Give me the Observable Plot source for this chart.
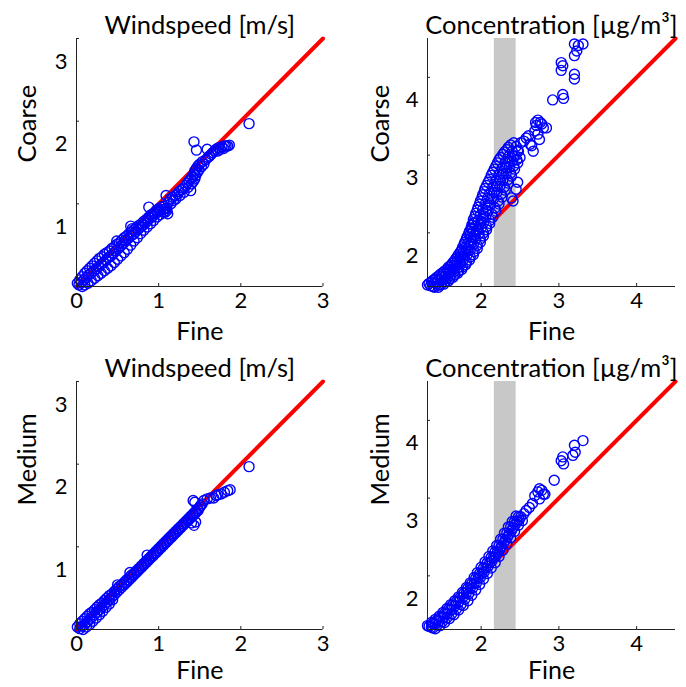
<!DOCTYPE html>
<html><head><meta charset="utf-8">
<script src="https://cdn.jsdelivr.net/npm/d3@7"></script>
<script src="https://cdn.jsdelivr.net/npm/@observablehq/plot@0.6"></script>
<style>
body{margin:0;background:#fff;}
#grid{display:grid;grid-template-columns:343px 343px;grid-template-rows:343px 343px;width:686px;}
#grid svg{overflow:visible;}
</style></head><body><div id="grid"></div>
<script>
// ---- data: [fine, other] pairs ----
const windCoarse = [
[0.01,0.04],[0.04,0.08],[0.07,0.12],[0.10,0.16],[0.13,0.19],[0.16,0.22],[0.19,0.25],[0.22,0.28],[0.25,0.31],[0.28,0.34],[0.31,0.36],[0.34,0.39],[0.37,0.41],[0.40,0.43],[0.43,0.46],[0.46,0.48],[0.49,0.51],[0.52,0.53],[0.55,0.56],[0.58,0.59],[0.61,0.61],[0.64,0.64],[0.67,0.66],[0.70,0.69],[0.73,0.71],[0.76,0.74],[0.79,0.76],[0.82,0.79],[0.85,0.81],[0.88,0.84],[0.91,0.87],[0.94,0.89],[0.97,0.92],[1.00,0.94],[1.03,0.96],[1.06,0.97],
[0.03,0.02],[0.06,0.05],[0.09,0.08],[0.12,0.11],[0.15,0.14],[0.18,0.16],[0.21,0.19],[0.24,0.21],[0.27,0.24],[0.30,0.27],[0.33,0.29],[0.36,0.32],[0.39,0.35],[0.42,0.37],[0.45,0.40],[0.48,0.43],[0.51,0.46],[0.54,0.49],[0.57,0.52],[0.60,0.55],[0.63,0.58],[0.66,0.61],[0.69,0.63],[0.72,0.66],[0.75,0.69],[0.78,0.72],[0.81,0.74],[0.84,0.77],[0.87,0.80],[0.90,0.83],[0.93,0.85],[0.96,0.88],[0.99,0.90],[1.02,0.92],[1.05,0.93],[1.08,0.94],
[0.07,0.00],[0.10,0.02],[0.14,0.04],[0.18,0.07],[0.22,0.10],[0.26,0.13],[0.30,0.16],[0.34,0.19],[0.38,0.22],[0.42,0.25],[0.46,0.29],[0.50,0.33],[0.54,0.37],[0.58,0.41],[0.62,0.45],[0.66,0.50],[0.70,0.55],[0.74,0.59],[0.78,0.64],[0.82,0.68],[0.86,0.72],[0.90,0.76],[0.94,0.80],[0.98,0.84],[1.02,0.87],[1.06,0.90],[1.10,0.92],
[1.08,0.90],[1.10,0.95],[1.11,0.88],[0.49,0.55],[0.66,0.73],[0.68,0.70],[0.88,0.96],[1.09,1.10],
[1.12,1.02],[1.14,1.06],[1.15,1.00],[1.17,1.08],[1.18,1.04],[1.20,1.10],[1.21,1.06],[1.23,1.12],[1.25,1.15],[1.26,1.10],[1.28,1.17],[1.30,1.19],[1.31,1.14],[1.33,1.22],[1.35,1.25],[1.36,1.20],[1.37,1.28],[1.39,1.16],[1.39,1.30],[1.40,1.24],[1.41,1.33],[1.42,1.27],[1.43,1.36],[1.44,1.30],[1.44,1.40],[1.45,1.34],[1.46,1.43],[1.47,1.38],[1.48,1.46],[1.49,1.41],[1.50,1.48],[1.52,1.45],[1.53,1.51],[1.55,1.48],[1.57,1.53],[1.59,1.66],[1.60,1.56],[1.62,1.58],[1.64,1.60],[1.66,1.62],[1.68,1.64],[1.70,1.66],[1.72,1.64],[1.73,1.68],[1.75,1.66],[1.77,1.69],[1.79,1.67],[1.80,1.70],[1.82,1.70],[1.84,1.70],[1.86,1.71],[1.43,1.75],[1.46,1.65],[2.10,1.97]
];
const windMedium = [
[0.01,0.03],[0.04,0.07],[0.07,0.10],[0.10,0.13],[0.13,0.16],[0.16,0.19],[0.19,0.21],[0.22,0.24],[0.25,0.27],[0.28,0.30],[0.31,0.32],[0.34,0.35],[0.37,0.38],[0.40,0.41],[0.43,0.43],[0.46,0.46],[0.49,0.49],[0.52,0.52],[0.55,0.54],[0.58,0.57],[0.61,0.60],[0.64,0.63],[0.67,0.66],[0.70,0.68],[0.73,0.71],[0.76,0.74],[0.79,0.77],[0.82,0.80],[0.85,0.83],[0.88,0.86],[0.91,0.89],[0.94,0.92],[0.97,0.95],[1.00,0.98],[1.03,1.01],[1.06,1.04],[1.09,1.07],[1.12,1.10],[1.15,1.13],[1.18,1.16],[1.21,1.19],[1.24,1.22],[1.27,1.25],[1.30,1.28],[1.33,1.31],[1.36,1.34],[1.39,1.37],[1.42,1.40],[1.45,1.43],[1.48,1.46],[1.51,1.50],
[0.04,0.01],[0.07,0.04],[0.10,0.06],[0.13,0.09],[0.16,0.12],[0.19,0.15],[0.22,0.18],[0.25,0.21],[0.28,0.24],[0.31,0.27],[0.34,0.30],[0.37,0.33],[0.40,0.36],[0.43,0.39],[0.46,0.42],[0.49,0.45],[0.52,0.48],[0.55,0.51],[0.58,0.54],[0.61,0.57],[0.64,0.60],[0.67,0.63],[0.70,0.66],[0.73,0.69],[0.76,0.72],[0.79,0.75],[0.82,0.78],[0.85,0.81],[0.88,0.84],[0.91,0.87],[0.94,0.90],[0.97,0.93],[1.00,0.96],[1.03,0.99],[1.06,1.02],[1.09,1.05],[1.12,1.08],[1.15,1.11],[1.18,1.14],[1.21,1.17],[1.24,1.20],[1.27,1.23],[1.30,1.26],[1.33,1.29],[1.36,1.32],[1.39,1.35],[1.42,1.38],[1.45,1.41],[1.48,1.44],
[0.08,0.00],[0.12,0.03],[0.16,0.06],[0.20,0.10],[0.24,0.14],[0.28,0.18],[0.32,0.22],[0.36,0.27],[0.40,0.31],[0.44,0.36],
[0.50,0.54],[0.65,0.69],[0.86,0.90],[1.40,1.29],[1.43,1.26],[1.45,1.30],[1.42,1.56],[1.44,1.54],[1.50,1.48],[1.53,1.52],[1.55,1.56],[1.59,1.58],[1.63,1.59],[1.67,1.59],[1.70,1.62],[1.72,1.63],[1.76,1.64],[1.80,1.66],[1.84,1.68],[1.87,1.69],[2.10,1.97]
];
const concCoarse = [
[1.31,1.33],[1.36,1.37],[1.41,1.41],[1.46,1.45],[1.51,1.49],[1.56,1.53],[1.61,1.58],[1.65,1.63],[1.69,1.69],[1.73,1.75],[1.76,1.81],[1.79,1.88],[1.82,1.95],[1.85,2.02],[1.88,2.10],[1.90,2.17],[1.93,2.25],[1.96,2.33],[1.99,2.41],[2.02,2.49],[2.05,2.57],[2.09,2.65],[2.13,2.74],[2.17,2.82],[2.21,2.90],[2.25,2.97],[2.30,3.04],[2.35,3.10],[2.42,3.16],
[1.33,1.35],[1.38,1.39],[1.43,1.43],[1.48,1.47],[1.53,1.51],[1.58,1.56],[1.63,1.61],[1.67,1.66],[1.71,1.72],[1.75,1.78],[1.78,1.85],[1.81,1.92],[1.84,1.99],[1.87,2.06],[1.90,2.13],[1.92,2.21],[1.95,2.29],[1.98,2.37],[2.01,2.45],[2.04,2.53],[2.07,2.61],[2.11,2.69],[2.15,2.78],[2.19,2.86],[2.23,2.94],[2.28,3.01],[2.33,3.07],[2.38,3.13],
[1.35,1.32],[1.40,1.36],[1.45,1.40],[1.50,1.44],[1.55,1.48],[1.60,1.53],[1.65,1.58],[1.69,1.63],[1.73,1.69],[1.77,1.75],[1.80,1.81],[1.84,1.88],[1.87,1.95],[1.90,2.02],[1.93,2.09],[1.96,2.16],[1.99,2.23],[2.02,2.30],[2.05,2.37],[2.08,2.44],[2.11,2.51],[2.15,2.59],[2.19,2.67],[2.23,2.75],[2.27,2.83],[2.31,2.91],[2.35,2.98],[2.40,3.05],[2.45,3.11],[2.51,3.16],
[1.38,1.31],[1.43,1.35],[1.48,1.39],[1.53,1.43],[1.58,1.47],[1.63,1.52],[1.67,1.57],[1.72,1.62],[1.76,1.68],[1.80,1.74],[1.83,1.80],[1.87,1.87],[1.90,1.94],[1.94,2.01],[1.97,2.08],[2.00,2.15],[2.03,2.22],[2.06,2.29],[2.09,2.36],[2.13,2.44],[2.17,2.52],[2.21,2.60],[2.25,2.68],[2.29,2.76],[2.33,2.84],[2.37,2.91],[2.42,2.98],[2.47,3.06],
[1.40,1.30],[1.45,1.33],[1.50,1.37],[1.55,1.41],[1.60,1.45],[1.65,1.50],[1.70,1.55],[1.74,1.60],[1.78,1.66],[1.82,1.72],[1.86,1.78],[1.90,1.85],[1.93,1.92],[1.97,1.99],[2.00,2.06],[2.03,2.13],[2.06,2.20],[2.09,2.28],[2.12,2.36],[2.16,2.44],[2.20,2.52],[2.24,2.60],[2.28,2.68],[2.32,2.76],[2.36,2.84],[2.40,2.92],[2.44,2.99],[2.48,3.05],
[1.48,1.33],[1.54,1.37],[1.60,1.41],[1.66,1.46],[1.71,1.51],[1.76,1.56],[1.81,1.62],[1.86,1.69],[1.91,1.76],[1.95,1.84],[1.99,1.92],[2.03,2.00],[2.07,2.08],[2.11,2.16],[2.14,2.24],[2.18,2.32],[2.22,2.41],[2.26,2.50],[2.30,2.59],[2.34,2.68],[2.38,2.77],[2.42,2.86],[2.46,2.94],
[1.45,1.30],[1.52,1.34],[1.58,1.38],[1.64,1.43],[1.70,1.48],[1.75,1.53],[1.80,1.59],[1.85,1.65],[1.90,1.72],[1.95,1.80],[1.99,1.88],[2.03,1.96],[2.07,2.04],[2.11,2.12],[2.15,2.20],[2.19,2.28],[2.23,2.37],[2.27,2.46],[2.31,2.55],[2.35,2.64],[2.39,2.73],[2.43,2.82],[2.47,2.90],[2.50,2.97],
[2.39,2.45],[2.41,2.41],[2.45,2.56],[2.47,2.65],[1.88,2.06],[1.91,2.12],[1.86,1.98],
[2.55,3.18],[2.58,3.22],[2.61,3.25],[2.63,3.14],[2.65,3.12],[2.67,3.05],[2.69,3.31],[2.70,3.42],[2.71,3.38],[2.73,3.45],[2.73,3.27],[2.75,3.20],[2.76,3.42],[2.78,3.40],[2.80,3.35],[2.84,3.35],
[2.92,3.71],[3.05,3.78],[3.06,3.73],[3.03,4.19],[3.05,4.15],[3.03,4.09],[3.20,4.04],[3.20,3.98],[3.20,4.43],[3.25,4.41],[3.31,4.43],[3.23,4.34],[3.20,4.28]
];
const concMedium = [
[1.31,1.36],[1.36,1.40],[1.41,1.44],[1.46,1.48],[1.51,1.53],[1.56,1.58],[1.61,1.63],[1.66,1.68],[1.71,1.73],[1.76,1.79],[1.81,1.85],[1.86,1.91],[1.91,1.98],[1.95,2.04],[2.00,2.11],[2.05,2.18],[2.10,2.25],[2.15,2.32],[2.20,2.39],[2.25,2.47],[2.30,2.55],[2.35,2.63],[2.40,2.70],[2.45,2.77],
[1.33,1.35],[1.38,1.39],[1.43,1.43],[1.48,1.47],[1.53,1.52],[1.58,1.57],[1.63,1.62],[1.68,1.67],[1.73,1.72],[1.78,1.78],[1.83,1.84],[1.88,1.90],[1.93,1.97],[1.98,2.03],[2.03,2.10],[2.08,2.17],[2.13,2.24],[2.18,2.31],[2.23,2.39],[2.28,2.47],[2.33,2.55],[2.38,2.63],[2.43,2.70],[2.48,2.76],
[1.36,1.34],[1.41,1.38],[1.46,1.42],[1.51,1.46],[1.56,1.51],[1.61,1.56],[1.66,1.61],[1.71,1.66],[1.76,1.72],[1.81,1.78],[1.86,1.84],[1.91,1.90],[1.96,1.97],[2.01,2.03],[2.06,2.10],[2.11,2.17],[2.16,2.24],[2.21,2.31],[2.26,2.38],[2.31,2.46],[2.36,2.54],[2.41,2.62],[2.46,2.70],[2.51,2.76],
[1.38,1.33],[1.44,1.37],[1.50,1.41],[1.56,1.46],[1.62,1.51],[1.68,1.57],[1.74,1.63],[1.79,1.70],[1.84,1.77],[1.89,1.84],[1.94,1.91],[1.99,1.98],[2.04,2.05],[2.09,2.12],[2.14,2.19],[2.19,2.26],[2.24,2.34],[2.29,2.42],[2.34,2.50],[2.39,2.58],[2.44,2.66],[2.49,2.72],
[1.41,1.32],[1.47,1.36],[1.53,1.40],[1.59,1.45],[1.65,1.50],[1.71,1.56],[1.77,1.62],[1.83,1.68],[1.88,1.75],[1.93,1.82],[1.98,1.89],[2.03,1.96],[2.08,2.03],[2.13,2.10],[2.18,2.17],[2.23,2.25],[2.28,2.33],[2.33,2.41],[2.38,2.49],[2.43,2.57],[2.48,2.65],[2.53,2.71],
[2.55,2.80],[2.58,2.84],[2.62,2.88],[2.66,2.93],[2.69,3.03],[2.73,3.08],[2.75,3.12],[2.75,2.99],[2.78,3.10],[2.80,3.05],[2.82,3.05],[2.94,3.23],
[3.03,3.48],[3.05,3.53],[3.06,3.44],[3.18,3.55],[3.20,3.68],[3.21,3.59],[3.31,3.74]
];
const windDomain = [0, 3];
const concDomain = [1.31, 4.5];
const windXTicks = [0, 1, 2, 3];
const windYTicks = [1, 2, 3];
const concTicks = [2, 3, 4];
const windRefLine = [[0, 0], [3, 3]];
const concRefLine = [[2.18, 2.18], [4.5, 4.5]];
const concBand = [2.17, 2.45];
const titles = ["Windspeed [m/s]", "Concentration [\u00b5g/m\u00b3]"];
const rowLabels = ["Coarse", "Medium"];
const xLabel = "Fine";

const FONT = "Lato, 'Open Sans', sans-serif";
const AXIS = "#222";

function panel({title, ylabel, pts, domain, xTicks, yTicks, ref, band, marginLeft, marginRight, ylabelDx, xlabelDy}) {
  const marks = [];
  if (band) marks.push(Plot.rect([band], {x1: d => d[0], x2: d => d[1], fill: "#c8c8c8"}));
  marks.push(Plot.line(ref, {x: d => d[0], y: d => d[1], stroke: "#ff0000", strokeWidth: 4}));
  marks.push(Plot.dot(pts, {x: d => d[0], y: d => d[1], r: 5, stroke: "#0000ff", strokeWidth: 1.4, fill: "none"}));
  marks.push(Plot.ruleX([domain[0]], {stroke: AXIS}));
  marks.push(Plot.ruleY([domain[0]], {stroke: AXIS}));
  marks.push(Plot.axisY({ticks: yTicks, tickSize: -3, tickFormat: () => "", stroke: AXIS, label: null}));
  marks.push(Plot.axisX({ticks: xTicks, tickSize: -3, tickFormat: () => "", stroke: AXIS, label: null}));
  marks.push(Plot.text(yTicks, {x: domain[0], y: d => d, text: d => String(d), textAnchor: "end", dx: -9, dy: 23, fontSize: 22, fill: "#000"}));
  marks.push(Plot.text(xTicks, {x: d => d, y: domain[0], text: d => String(d), lineAnchor: "top", dy: 6, fontSize: 22, fill: "#000"}));
  marks.push(Plot.text([title], {frameAnchor: "top", lineAnchor: "top", dy: -23, fontSize: 25.5, fill: "#000"}));
  marks.push(Plot.text([xLabel], {frameAnchor: "bottom", lineAnchor: "top", dy: xlabelDy, fontSize: 25, fill: "#000"}));
  marks.push(Plot.text([ylabel], {frameAnchor: "left", rotate: -90, dx: ylabelDx, fontSize: 25.5, fill: "#000"}));
  return Plot.plot({
    width: 343, height: 343,
    marginLeft, marginRight, marginTop: 38, marginBottom: 57,
    x: {domain, axis: null},
    y: {domain, axis: null},
    style: {fontFamily: FONT, fontSize: "22px", background: "#fff", color: "#000"},
    marks
  });
}

const grid = document.getElementById("grid");
for (let r = 0; r < 2; r++) {
  const xlabelDy = r === 0 ? 36 : 32;
  grid.appendChild(panel({
    title: titles[0], ylabel: rowLabels[r], pts: r === 0 ? windCoarse : windMedium,
    domain: windDomain, xTicks: windXTicks, yTicks: windYTicks, ref: windRefLine,
    marginLeft: 76, marginRight: 20.5, ylabelDx: -49, xlabelDy
  }));
  grid.appendChild(panel({
    title: titles[1], ylabel: rowLabels[r], pts: r === 0 ? concCoarse : concMedium,
    domain: concDomain, xTicks: concTicks, yTicks: concTicks, ref: concRefLine, band: concBand,
    marginLeft: 84, marginRight: 11, ylabelDx: -47, xlabelDy
  }));
}
</script></body></html>
